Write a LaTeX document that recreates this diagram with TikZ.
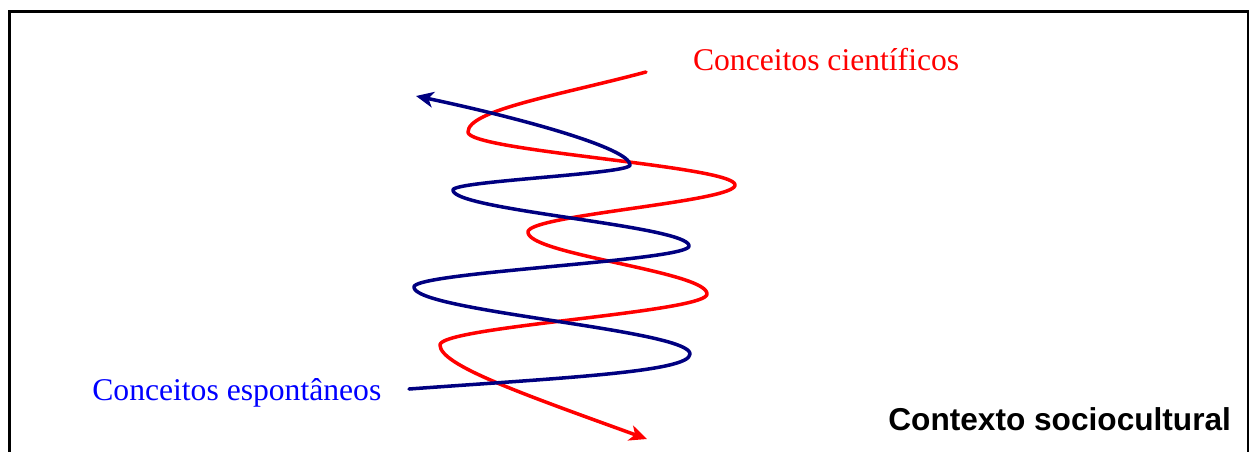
\documentclass[tikz,border=0pt]{standalone}
\usepackage{fontspec}
\setmainfont{Liberation Serif}
\newfontfamily\arialfont{Liberation Sans}
\usetikzlibrary{arrows.meta}
\definecolor{navy}{RGB}{0,0,128}
\begin{document}
\begin{tikzpicture}[x=0.02cm,y=-0.02cm,
  frame/.style={line width=1.4pt,black},
  spiral/.style={line width=2pt,line cap=round,line join=round},
  tip/.style={-{Stealth[length=10pt,width=9pt,inset=2.8pt]}},
  serif/.style={font=\fontsize{18}{22}\selectfont,inner sep=0pt,anchor=base west}]
\useasboundingbox (0,0) rectangle (1250,451);
\draw[frame] (9.7,452) -- (9.7,11.3) -- (1248,11.3) -- (1248,452);
% turning points
\coordinate (rs) at (646,72);
\coordinate (r1) at (468,132);
\coordinate (r5) at (440,345);
\coordinate (re) at (647,439);
\coordinate (bs) at (409,389);
\coordinate (b1) at (690,354);
\coordinate (b5) at (630,165);
\coordinate (be) at (416,96);
% red: scientific concepts
\draw[spiral,red,tip] (rs) .. controls (560,95) and (468,110) .. (r1)
  -- plot[domain=0:180,samples=50] ({601.5-133.5*cos(\x)},{132+53*\x/180})
  -- plot[domain=0:180,samples=50] ({631.5+103.5*cos(\x)},{185+47*\x/180})
  -- plot[domain=0:180,samples=50] ({617.5-89.5*cos(\x)},{232+62*\x/180})
  -- plot[domain=0:180,samples=50] ({573.5+133.5*cos(\x)},{294+51*\x/180})
  -- (r5) .. controls (440,365) and (520,393) .. (re);
% blue: spontaneous concepts
\draw[spiral,navy,tip] (bs) .. controls (560,378) and (690,372) .. (b1)
  -- plot[domain=0:180,samples=50] ({552+138*cos(\x)},{354-67*\x/180})
  -- plot[domain=0:180,samples=50] ({551.5-137.5*cos(\x)},{287-41*\x/180})
  -- plot[domain=0:180,samples=50] ({571+118*cos(\x)},{246-56*\x/180})
  -- plot[domain=0:180,samples=50] ({541.5-88.5*cos(\x)},{190-25*\x/180})
  -- (b5) .. controls (630,148) and (520,118) .. (be);
\node[serif,red] (cc) at (692.7,70.7) {Conceitos científicos};
\node[serif,blue] (ce) at (92,400) {Conceitos espontâneos};
\node[inner sep=0pt,anchor=base west,font=\arialfont\bfseries\fontsize{18}{22}\selectfont] (ctx) at (888,430) {Contexto sociocultural};
\end{tikzpicture}
\end{document}
